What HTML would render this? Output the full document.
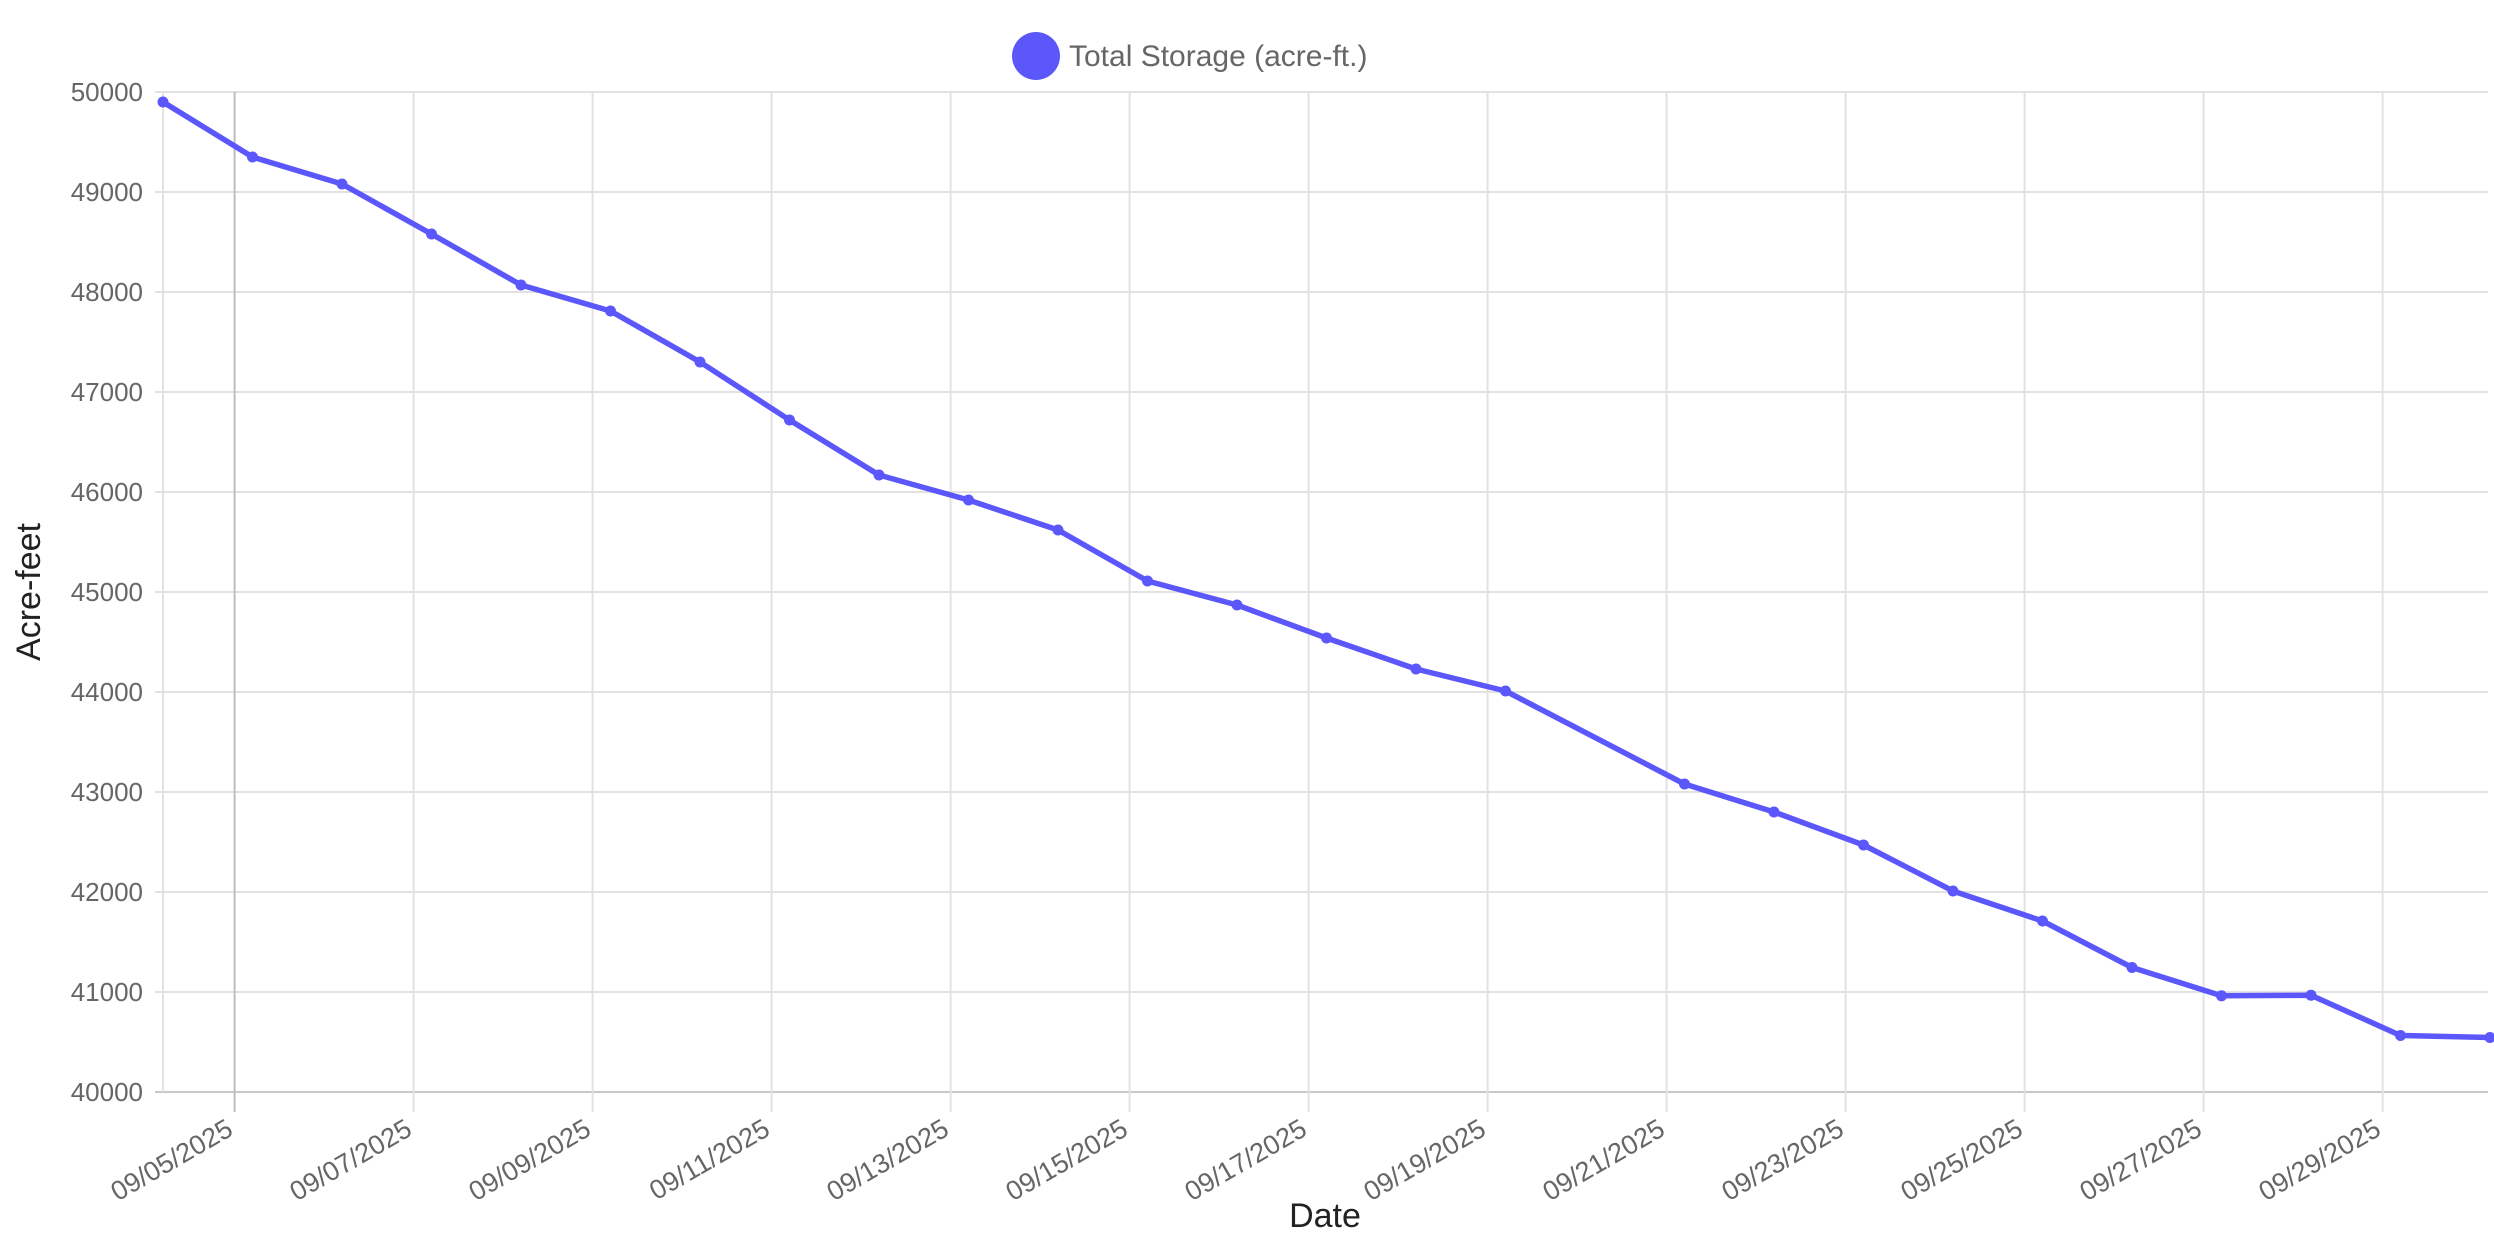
<!DOCTYPE html>
<html><head><meta charset="utf-8"><style>
html,body{margin:0;padding:0;background:#fff;}
svg{display:block;font-family:"Liberation Sans",Arial,sans-serif;}
</style></head><body>
<svg id="chart" width="2494" height="1246" viewBox="0 0 2494 1246" xmlns="http://www.w3.org/2000/svg">
<g id="grid"></g>
<g id="yticks"></g>
<g id="xticks"></g>
<g id="series"></g>
<g>
<circle cx="1036" cy="56" r="24" fill="#5b57fb"/>
<text x="1069" y="66" font-size="30" fill="#666">Total Storage (acre-ft.)</text>
</g>
<text transform="translate(40,592) rotate(-90)" text-anchor="middle" font-size="34" fill="#222">Acre-feet</text>
<text x="1325" y="1227" text-anchor="middle" font-size="34" fill="#222">Date</text>
</svg>
<script>
const dayIndex = [0,1,2,3,4,5,6,7,8,9,10,11,12,13,14,15,17,18,19,20,21,22,23,24,25,26];
const storage = [49900,49350,49080,48580,48070,47810,47300,46720,46170,45920,45620,45110,44870,44540,44230,44010,43080,42800,42470,42010,41710,41245,40962,40968,40565,40545];
const yTicks = [40000,41000,42000,43000,44000,45000,46000,47000,48000,49000,50000];
const xTickLabels = ["09/05/2025","09/07/2025","09/09/2025","09/11/2025","09/13/2025","09/15/2025","09/17/2025","09/19/2025","09/21/2025","09/23/2025","09/25/2025","09/27/2025","09/29/2025"];
const xTickDays = [0.8,2.8,4.8,6.8,8.8,10.8,12.8,14.8,16.8,18.8,20.8,22.8,24.8];

const NS="http://www.w3.org/2000/svg";
const L=163,R=2488,T=92,B=1092,DAY=89.5;
function xs(d){return L+d*DAY;}
function ys(v){return B-(v-40000)/10000*(B-T);}
function mk(tag,attrs,parent){const e=document.createElementNS(NS,tag);for(const k in attrs)e.setAttribute(k,attrs[k]);parent.appendChild(e);return e;}
const grid=document.getElementById('grid'),yg=document.getElementById('yticks'),xg=document.getElementById('xticks'),sg=document.getElementById('series');

yTicks.forEach(v=>{
  const y=ys(v);
  const ln=mk('line',{x1:155,x2:R,y1:y,y2:y,stroke:v===40000?'#c8c8c8':'#e2e2e2','stroke-width':2},grid);
  
  
  const t=mk('text',{x:143,y:y+9,'text-anchor':'end','font-size':26,fill:'#666'},yg);
  
  
  t.textContent=v;
});
const lv=mk('line',{x1:L,x2:L,y1:T,y2:B,stroke:'#e2e2e2','stroke-width':2},grid);



xTickLabels.forEach((lab,i)=>{
  const x=xs(xTickDays[i]);
  const ln=mk('line',{x1:x,x2:x,y1:T,y2:1112,stroke:i===0?'#bdbdbd':'#e2e2e2','stroke-width':2},grid);
  
  
  const t=mk('text',{x:0,y:0,'text-anchor':'end','font-size':27,fill:'#666',transform:`translate(${x},${1134}) rotate(-30)`},xg);
  
  
  t.textContent=lab;
});

const pts=dayIndex.map((d,i)=>xs(d)+','+ys(storage[i])).join(' ');
const pl=mk('polyline',{points:pts,fill:'none',stroke:'#5b57fb','stroke-width':5.5,'stroke-linejoin':'round'},sg);


dayIndex.forEach((d,i)=>{
  const c=mk('circle',{cx:xs(d),cy:ys(storage[i]),r:5.5,fill:'#5b57fb'},sg);
  
  
});
</script>
</body></html>
